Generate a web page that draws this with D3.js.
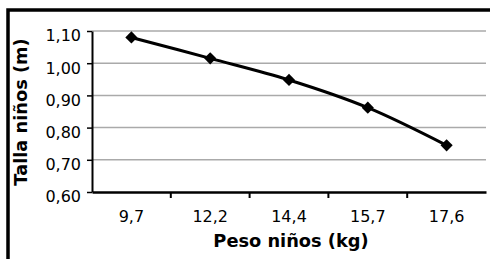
<!DOCTYPE html>
<html>
<head>
<meta charset="utf-8">
<script src="https://cdn.jsdelivr.net/npm/d3@7"></script>
<style>
  body { margin: 0; background: #fff; }
  svg { display: block; }
</style>
</head>
<body>
<div id="viz"></div>
<script>
// Talla vs peso niños — smoothed line chart

const PESOS = ["9,7", "12,2", "14,4", "15,7", "17,6"];
const TALLAS = [1.08, 1.015, 0.948, 0.862, 0.745];
const Y_TICKS = [0.6, 0.7, 0.8, 0.9, 1.0, 1.1];

const width = 490, height = 259;
const margin = { top: 31, right: 4, bottom: 67, left: 92 };
const fmt = v => d3.format(".2f")(v).replace(".", ",");

const svg = d3.select("#viz").append("svg")
  .attr("width", width)
  .attr("height", height);

// outer frame (right/bottom edges fall outside the picture)
svg.append("rect")
  .attr("x", 8).attr("y", 10)
  .attr("width", width + 20).attr("height", height + 20)
  .attr("fill", "none")
  .attr("stroke", "#000")
  .attr("stroke-width", 3.5);

const x = d3.scaleBand()
  .domain(PESOS)
  .range([margin.left, width - margin.right]);

const y = d3.scaleLinear()
  .domain([0.6, 1.1])
  .range([height - margin.bottom, margin.top]);

// gridlines
svg.append("g")
  .selectAll("line")
  .data(Y_TICKS.slice(1))
  .enter().append("line")
  .attr("x1", margin.left).attr("x2", width - margin.right)
  .attr("y1", d => y(d)).attr("y2", d => y(d))
  .attr("stroke", "#aaaaaa")
  .attr("stroke-width", 1.5);

// y axis
const yAxis = svg.append("g")
  .attr("transform", `translate(${margin.left},0)`)
  .call(d3.axisLeft(y).tickValues(Y_TICKS).tickFormat(fmt).tickSize(5).tickSizeOuter(0));
yAxis.select(".domain").attr("stroke", "#000").attr("stroke-width", 2);
yAxis.selectAll(".tick line").attr("stroke", "#000").attr("stroke-width", 1.5);
yAxis.selectAll(".tick text")
  .attr("x", -11)
  .attr("dy", "0.62em")
  .attr("font-family", "DejaVu Sans")
  .attr("font-size", 16)
  .attr("fill", "#000");

// x axis
const xAxis = svg.append("g")
  .attr("transform", `translate(0,${height - margin.bottom})`)
  .call(d3.axisBottom(x).tickSize(0).tickSizeOuter(0));
xAxis.select(".domain").attr("stroke", "#000").attr("stroke-width", 2.5);
xAxis.selectAll(".tick text")
  .attr("y", 19)
  .attr("font-family", "DejaVu Sans")
  .attr("font-size", 16)
  .attr("fill", "#000");

// category boundary ticks
svg.append("g")
  .selectAll("line")
  .data(PESOS.slice(1))
  .enter().append("line")
  .attr("x1", d => x(d)).attr("x2", d => x(d))
  .attr("y1", height - margin.bottom).attr("y2", height - margin.bottom + 6)
  .attr("stroke", "#000")
  .attr("stroke-width", 2);

// smoothed line
const pts = PESOS.map((p, i) => [x(p) + x.bandwidth() / 2, y(TALLAS[i])]);
svg.append("path")
  .attr("d", d3.line().curve(d3.curveCatmullRom.alpha(0))(pts))
  .attr("fill", "none")
  .attr("stroke", "#000")
  .attr("stroke-width", 3);

// diamond markers
svg.append("g")
  .selectAll("path")
  .data(pts)
  .enter().append("path")
  .attr("transform", d => `translate(${d[0]},${d[1]}) rotate(45)`)
  .attr("d", "M-4.3,-4.3H4.3V4.3H-4.3Z")
  .attr("fill", "#000");

// axis titles
svg.append("text")
  .attr("x", (margin.left + width - margin.right) / 2 + 2)
  .attr("y", 247)
  .attr("text-anchor", "middle")
  .attr("font-family", "DejaVu Sans")
  .attr("font-weight", "bold")
  .attr("font-size", 17.8)
  .text("Peso niños (kg)");

svg.append("text")
  .attr("transform", "translate(27,112) rotate(-90)")
  .attr("text-anchor", "middle")
  .attr("font-family", "DejaVu Sans")
  .attr("font-weight", "bold")
  .attr("font-size", 17.8)
  .text("Talla niños (m)");
</script>
</body>
</html>
